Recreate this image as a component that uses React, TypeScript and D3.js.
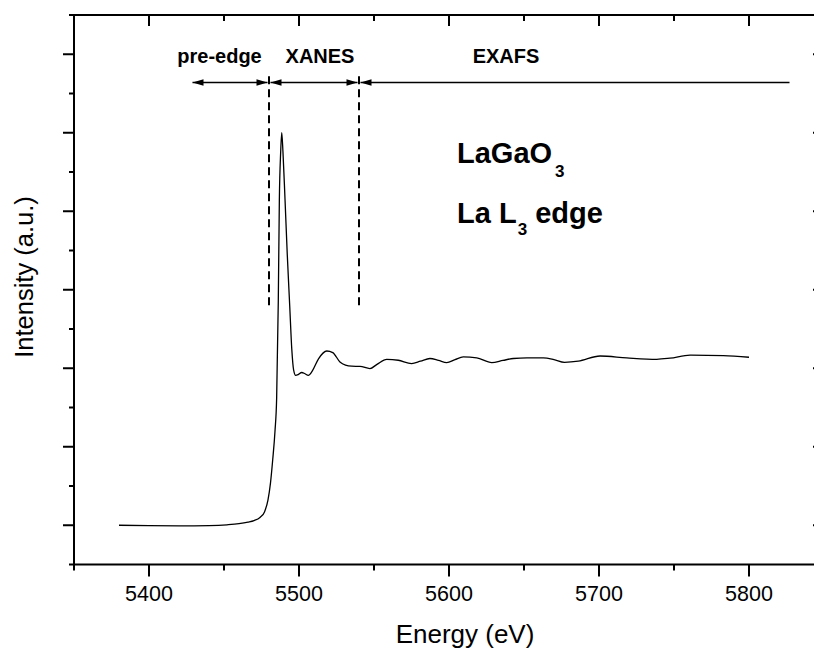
import React from "react";
import * as d3 from "d3";

// ---- data ----
const energy = [5380, 5400, 5420, 5440, 5452, 5460, 5466, 5470, 5474, 5477, 5479.3, 5481, 5482.5, 5484, 5485.1, 5486.2, 5486.9, 5487.8, 5488.5, 5489.3, 5490.7, 5492.2, 5493.8, 5495.2, 5496.4, 5497.8, 5499.5, 5501.8, 5504, 5506.2, 5509, 5513, 5518.5, 5522.5, 5527.3, 5531, 5535.1, 5540.7, 5547.3, 5552, 5558.5, 5566.2, 5575.1, 5581, 5587.3, 5593, 5598.5, 5604, 5609.5, 5618.5, 5628.5, 5636, 5642.9, 5652, 5662.9, 5670, 5677, 5686.2, 5700.7, 5718.5, 5738.5, 5747.3, 5760.7, 5782.9, 5800];
const intensity = [0, -0.003, -0.004, -0.002, 0.003, 0.01, 0.02, 0.03, 0.05, 0.085, 0.16, 0.27, 0.42, 0.6, 0.81, 1.43, 2.07, 2.38, 2.5, 2.38, 2.07, 1.72, 1.40, 1.12, 0.99, 0.955, 0.96, 0.973, 0.965, 0.955, 0.985, 1.06, 1.11, 1.10, 1.04, 1.02, 1.013, 1.012, 0.998, 1.025, 1.057, 1.051, 1.030, 1.045, 1.062, 1.05, 1.036, 1.055, 1.072, 1.066, 1.036, 1.05, 1.062, 1.066, 1.066, 1.055, 1.038, 1.045, 1.078, 1.066, 1.057, 1.064, 1.083, 1.081, 1.070];

const xMajorTicks = [5400, 5500, 5600, 5700, 5800];
const xMinorTicks = [5350, 5450, 5550, 5650, 5750, 5850];
const yMajorTicks = [0, 0.5, 1, 1.5, 2, 2.5, 3];
const yMinorTicks = [-0.25, 0.25, 0.75, 1.25, 1.75, 2.25, 2.75, 3.25];

const regionBounds = [5480, 5540];
const regionLabels = ["pre-edge", "XANES", "EXAFS"];
const regionLabelX = [5447, 5514, 5638];
const arrowStart = [5429, 5481, 5541];
const arrowEnd = [5479, 5539, 5827];
const arrowHeadStart = [true, true, true];
const arrowHeadEnd = [true, true, false];

const FONT = "'Liberation Sans', Arial, Helvetica, sans-serif";

export default function App() {
  const W = 814, H = 648;
  const x = d3.scaleLinear().domain([5350, 5850]).range([74, 824]);
  const y = d3.scaleLinear().domain([-0.25, 3.25]).range([564.5, 15]);

  const pts = energy.map((e, i) => [e, intensity[i]] as [number, number]);
  const line = d3
    .line<[number, number]>()
    .x((d) => x(d[0]))
    .y((d) => y(d[1]))
    .curve(d3.curveMonotoneX);

  const x0 = x(5350), x1 = x(5850), yTop = y(3.25), yBot = y(-0.25);
  const arrowY = y(2.82);
  const dashTop = y(2.86), dashBot = y(1.4);

  const head = (tipX: number, dir: number) => {
    const L = 11, hw = 3.2;
    return `M${tipX},${arrowY} L${tipX - dir * L},${arrowY - hw} L${tipX - dir * L},${arrowY + hw} Z`;
  };

  return (
    <svg
      width={W}
      height={H}
      style={{ position: "absolute", left: 0, top: 0, background: "#fff" }}
    >
      {/* curve */}
      <path d={line(pts) || ""} fill="none" stroke="#000" strokeWidth={1.3} />

      {/* frame */}
      <line x1={x0} x2={x1 + 2} y1={yTop} y2={yTop} stroke="#000" strokeWidth={2} />
      <line x1={x0 - 1} x2={x1 + 2} y1={yBot} y2={yBot} stroke="#000" strokeWidth={2} />
      <line x1={x0} x2={x0} y1={yTop - 1} y2={yBot + 1} stroke="#000" strokeWidth={2} />
      <line x1={x1} x2={x1} y1={yTop - 1} y2={yBot + 1} stroke="#000" strokeWidth={2} />

      {/* x ticks */}
      {xMajorTicks.map((t) => (
        <g key={"xM" + t}>
          <line x1={x(t)} x2={x(t)} y1={yBot} y2={yBot + 12} stroke="#000" strokeWidth={2} />
          <line x1={x(t)} x2={x(t)} y1={yTop} y2={yTop + 11} stroke="#000" strokeWidth={2} />
          <text x={x(t)} y={601} textAnchor="middle" fontFamily={FONT} fontSize={21.5} fill="#000">
            {t}
          </text>
        </g>
      ))}
      {xMinorTicks.map((t) => (
        <g key={"xm" + t}>
          <line x1={x(t)} x2={x(t)} y1={yBot} y2={yBot + 6} stroke="#000" strokeWidth={2} />
          <line x1={x(t)} x2={x(t)} y1={yTop} y2={yTop + 6} stroke="#000" strokeWidth={2} />
        </g>
      ))}

      {/* y ticks */}
      {yMajorTicks.map((t) => (
        <g key={"yM" + t}>
          <line x1={x0 - 11} x2={x0} y1={y(t)} y2={y(t)} stroke="#000" strokeWidth={2} />
          <line x1={x1 - 11} x2={x1} y1={y(t)} y2={y(t)} stroke="#000" strokeWidth={2} />
        </g>
      ))}
      {yMinorTicks.map((t) => (
        <g key={"ym" + t}>
          <line x1={x0 - 5} x2={x0} y1={y(t)} y2={y(t)} stroke="#000" strokeWidth={2} />
          <line x1={x1 - 5} x2={x1} y1={y(t)} y2={y(t)} stroke="#000" strokeWidth={2} />
        </g>
      ))}

      {/* axis titles */}
      <text x={465} y={643} textAnchor="middle" fontFamily={FONT} fontSize={26} fill="#000">
        Energy (eV)
      </text>
      <text
        transform={`translate(33,${277}) rotate(-90)`}
        textAnchor="middle"
        fontFamily={FONT}
        fontSize={25.5}
        fill="#000"
      >
        Intensity (a.u.)
      </text>

      {/* region boundaries */}
      {regionBounds.map((b) => (
        <line
          key={"rb" + b}
          x1={x(b)}
          x2={x(b)}
          y1={dashTop}
          y2={dashBot}
          stroke="#000"
          strokeWidth={2}
          strokeDasharray="8,5"
        />
      ))}

      {/* arrows */}
      {arrowStart.map((s, i) => (
        <g key={"ar" + i}>
          <line x1={x(s)} x2={x(arrowEnd[i])} y1={arrowY} y2={arrowY} stroke="#000" strokeWidth={1.6} />
          {arrowHeadStart[i] && <path d={head(x(s), -1)} fill="#000" />}
          {arrowHeadEnd[i] && <path d={head(x(arrowEnd[i]), 1)} fill="#000" />}
        </g>
      ))}

      {/* region labels */}
      {regionLabels.map((l, i) => (
        <text
          key={l}
          x={x(regionLabelX[i])}
          y={63}
          textAnchor="middle"
          fontFamily={FONT}
          fontWeight="bold"
          fontSize={20}
          fill="#000"
        >
          {l}
        </text>
      ))}

      {/* sample labels */}
      <text x={457} y={163} fontFamily={FONT} fontWeight="bold" fontSize={29} fill="#000">
        LaGaO
        <tspan dx={3} dy={14} fontSize={17}>3</tspan>
      </text>
      <text x={457} y={223} fontFamily={FONT} fontWeight="bold" fontSize={29} fill="#000">
        La L
        <tspan dx={1} dy={12} fontSize={17}>3</tspan>
        <tspan dy={-12}> edge</tspan>
      </text>
    </svg>
  );
}
